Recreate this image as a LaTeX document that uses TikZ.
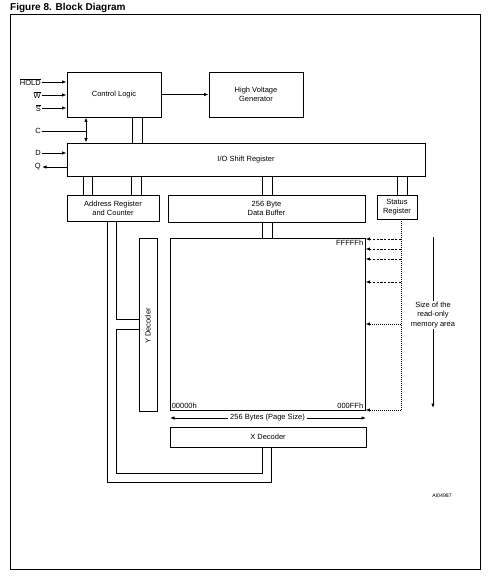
\documentclass[tikz,border=0pt]{standalone}
\usepackage{fontspec}
\setmainfont{Liberation Sans}
\usetikzlibrary{arrows.meta}
\tikzset{
  box/.style={draw, line width=0.85pt, inner sep=0pt, align=center, font=\fontsize{7.5}{9.2}\selectfont},
  lbl/.style={font=\fontsize{7.5}{9.2}\selectfont, inner sep=1pt},
  conn/.style={line width=0.85pt},
  tipend/.style={-{Latex[length=4.5pt,width=3.4pt]}},
  tipboth/.style={{Latex[length=4.5pt,width=3.4pt]}-{Latex[length=4.5pt,width=3.4pt]}},
  dashln/.style={line width=0.8pt, dash pattern=on 2.2pt off 1.5pt},
  dotln/.style={line width=0.8pt, dash pattern=on 0.8pt off 1.2pt},
}
\begin{document}
\begin{tikzpicture}[x=1pt,y=-1pt]
\useasboundingbox (0,0) rectangle (491,580);
% frame and title
\draw[line width=0.85pt] (10,14) rectangle (480,569);
\node[anchor=base west, inner sep=0pt, font=\fontsize{10}{12}\selectfont\bfseries] (title) at (10,11) {Figure 8. Block Diagram};

% blocks
\node[box, minimum width=94pt, minimum height=45pt] (cl) at (114,94.5) {Control Logic};
\node[box, minimum width=94pt, minimum height=45pt] (hv) at (256,94.5) {High Voltage\\Generator};
\node[box, minimum width=358pt, minimum height=33pt] (io) at (246,159.5) {I/O Shift Register};
\node[box, minimum width=92pt, minimum height=26pt] (ar) at (113,208) {Address Register\\and Counter};
\node[box, minimum width=197pt, minimum height=27pt] (db) at (266.5,208.5) {256 Byte\\Data Buffer};
\node[box, minimum width=40pt, minimum height=24pt] (sr) at (397,207) {Status\\Register};
\node[box, minimum width=195pt, minimum height=172pt] (mem) at (267.5,324) {};
\node[box, minimum width=18pt, minimum height=173pt] (yd) at (148,324.5) {};
\node[lbl, rotate=90] (ydl) at (148,326) {Y Decoder};
\node[box, minimum width=196pt, minimum height=20pt] (xd) at (268,437) {X Decoder};

% memory labels
\node[lbl, anchor=north east, inner sep=2pt] (ftop) at (mem.north east) {FFFFFh};
\node[lbl, anchor=south east, inner sep=2pt] (fbot) at (mem.south east) {000FFh};
\node[lbl, anchor=south west, inner sep=2pt] (zbot) at (mem.south west) {00000h};

% input signals
\node[lbl, anchor=east] (hold) at (42,82) {$\overline{\mbox{HOLD}}$};
\node[lbl, anchor=east] (w) at (42,95) {$\overline{\mbox{W}}$};
\node[lbl, anchor=east] (s) at (42,108) {$\overline{\mbox{S}}$};
\node[lbl, anchor=east] (c) at (42,131) {C};
\node[lbl, anchor=east] (d) at (42,153) {D};
\node[lbl, anchor=east] (q) at (42,167) {Q};
\draw[conn, tipend] (hold) -- (hold -| cl.west);
\draw[conn, tipend] (w) -- (w -| cl.west);
\draw[conn, tipend] (s) -- (s -| cl.west);
\draw[conn, tipend] (d) -- (d -| io.west);
\draw[conn, tipend] (q -| io.west) -- (q);
\coordinate (xc) at (86,0);
\draw[conn, tipboth] (cl.south -| xc) -- (io.north -| xc);
\draw[conn] (c) -- (c -| xc);

% control logic to high voltage
\draw[conn, tipend] (cl) -- (hv);

% double buses
\foreach \x in {132,142}{\coordinate (t) at (\x,0); \draw[conn] (cl.south -| t) -- (io.north -| t);}
\foreach \x in {83,92,131,141}{\coordinate (t) at (\x,0); \draw[conn] (io.south -| t) -- (ar.north -| t);}
\foreach \x in {262,272}{\coordinate (t) at (\x,0); \draw[conn] (io.south -| t) -- (db.north -| t); \draw[conn] (db.south -| t) -- (mem.north -| t);}
\foreach \x in {397,407}{\coordinate (t) at (\x,0); \draw[conn] (io.south -| t) -- (sr.north -| t);}

% address lines
\coordinate (a1) at (116,0);
\coordinate (a2) at (107,0);
\coordinate (b1) at (0,473);
\coordinate (b2) at (0,482);
\coordinate (xd1) at ([xshift=-6pt]xd.south);
\coordinate (xd2) at ([xshift=3pt]xd.south);
\draw[conn] (ar.south -| a1) |- ([yshift=5pt]yd.west);
\draw[conn] ([yshift=-5pt]yd.west) -| (a1 |- b1) -| (xd1);
\draw[conn] (ar.south -| a2) |- (xd2 |- b2) -- (xd2);

% status register read-only arrows
\coordinate (d1) at (401,239);
\coordinate (d2) at (401,249);
\coordinate (d3) at (401,259);
\coordinate (d4) at (401,282);
\coordinate (d5) at (401,324);
\coordinate (d6) at (401,410);
\draw[dotln] (sr.south -| d1) -- (d6);
\draw[dashln, tipend] (d1) -- (d1 -| mem.east);
\draw[dashln, tipend] (d2) -- (d2 -| mem.east);
\draw[dashln, tipend] (d3) -- (d3 -| mem.east);
\draw[dashln, tipend] (d4) -- (d4 -| mem.east);
\draw[dotln, tipend] (d5) -- (d5 -| mem.east);
\draw[dotln, tipend] (d6) -- (d6 -| mem.east);

% size arrow
\coordinate (stop) at (433,237);
\coordinate (sbot) at (433,408);
\draw[conn, tipend] (stop) -- (sbot);
\node[lbl, fill=white, align=center, inner sep=1.5pt] (size) at (433,315) {Size of the\\read-only\\memory area};

% page size arrow
\coordinate (pl) at (170,418);
\coordinate (pr) at (366,418);
\draw[conn, tipboth] (pl) -- (pr);
\node[lbl, fill=white, inner sep=2pt] (page) at (267.5,418) {256 Bytes (Page Size)};

% figure id
\node[font=\fontsize{5.2}{6}\selectfont, inner sep=0pt] (fid) at (442,496) {AI04987};
\end{tikzpicture}
\end{document}
